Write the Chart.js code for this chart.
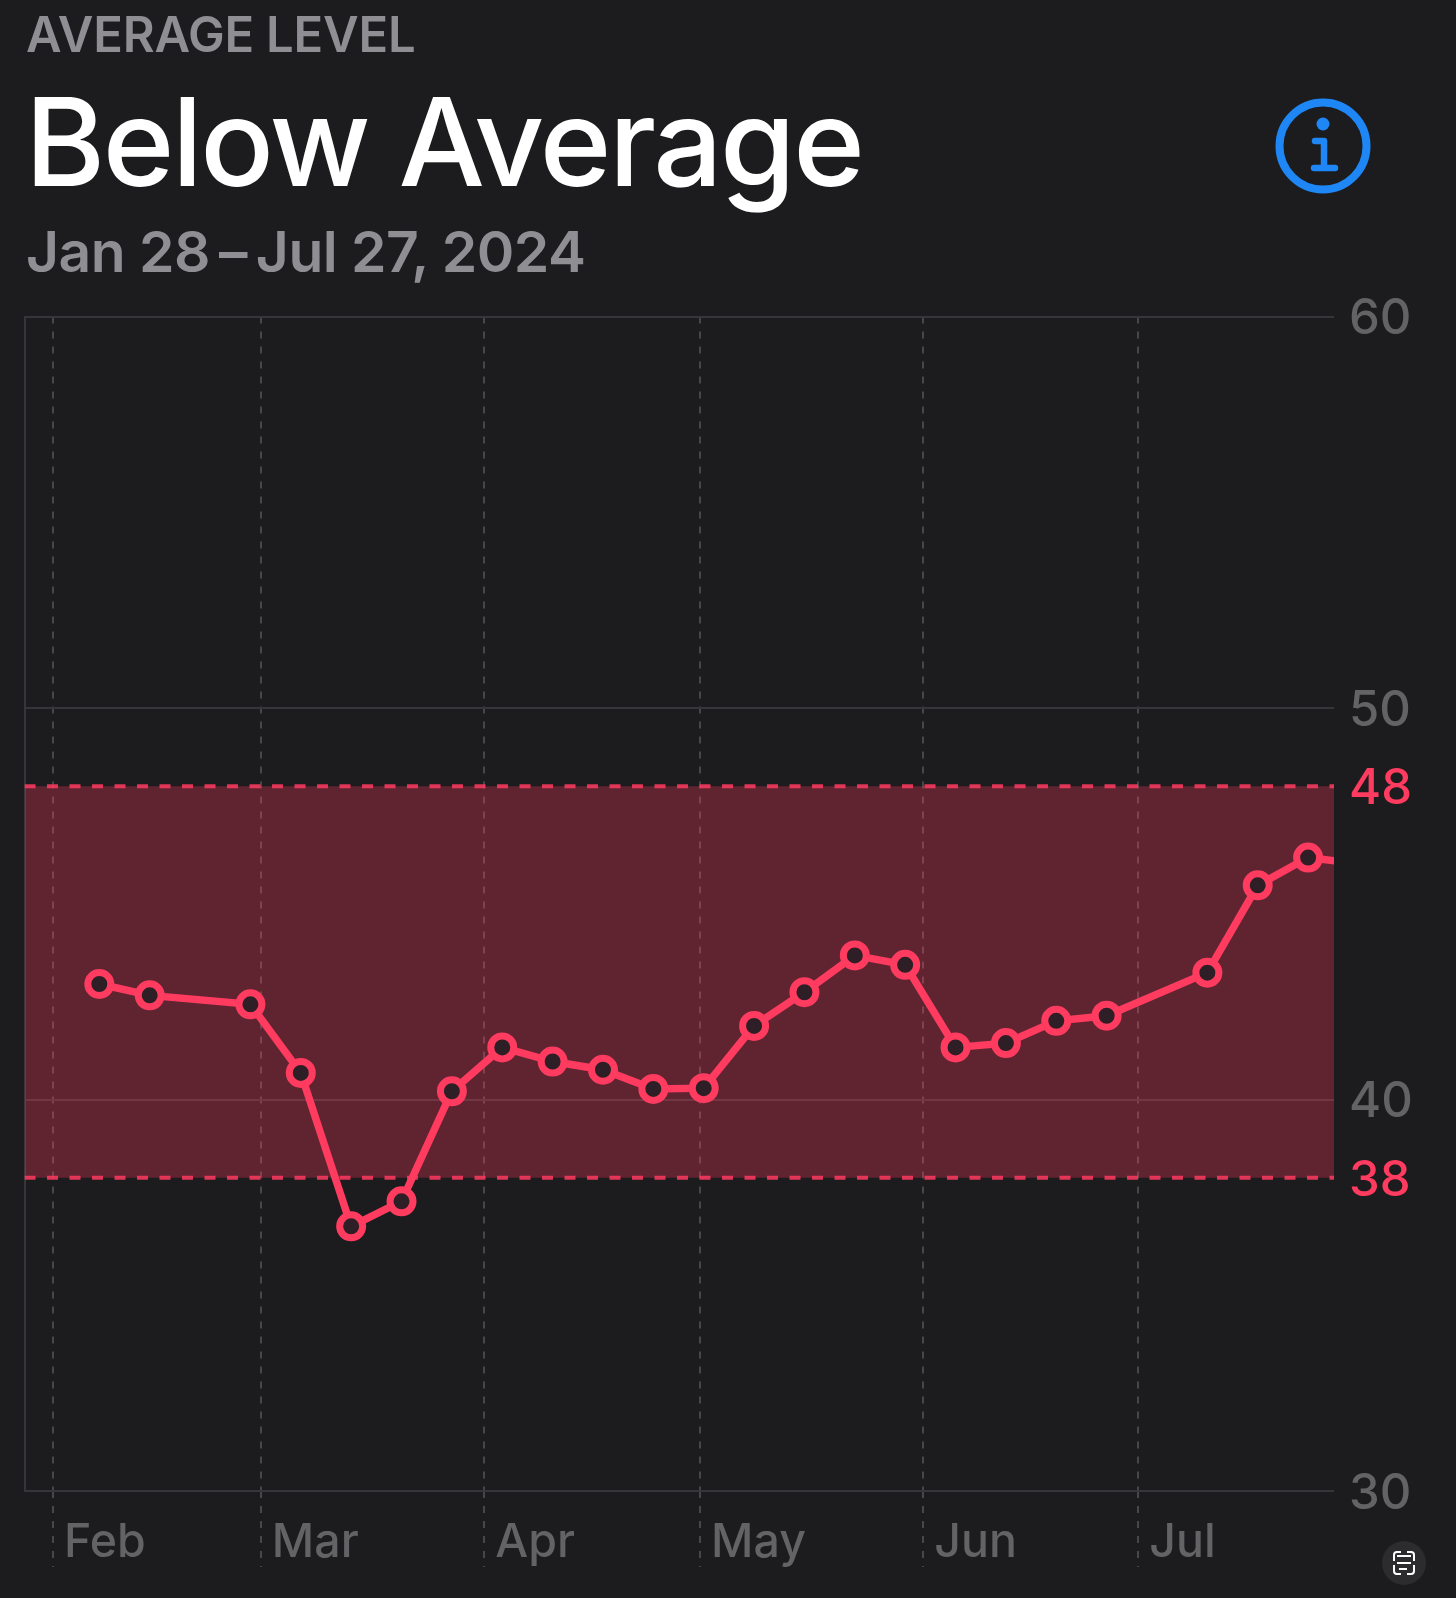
<!DOCTYPE html>
<html>
<head>
<meta charset="UTF-8">
<title>Below Average</title>
<style>
	html, body { margin: 0; padding: 0; background: #1c1c1e; }
	body { position: relative; width: 1456px; height: 1598px; overflow: hidden; font-family: Inter, "Noto Sans", sans-serif; }
	#myChart { position: absolute; left: 0; top: 0; }
	.txt { position: absolute; line-height: 1; white-space: nowrap; }
	#eyebrow { left: 26px; top: 10px; font-size: 49px; font-weight: 600; color: #8e8e93; letter-spacing: -0.2px; }
	#headline { left: 25px; top: 81px; font-size: 122px; font-weight: 500; color: #ffffff; letter-spacing: -2.4px; }
	#range { left: 26px; top: 223px; font-size: 57px; font-weight: 600; color: #8e8e93; letter-spacing: -0.5px; }
	svg { position: absolute; left: 0; top: 0; }
</style>
</head>
<body>

	<canvas id="myChart" width="1456" height="1598"></canvas>

	<div class="txt" id="eyebrow">AVERAGE LEVEL</div>
	<div class="txt" id="headline">Below Average</div>
	<div class="txt" id="range">Jan 28&#8201;–&#8201;Jul 27, 2024</div>

	<svg width="1456" height="1598" fill="none">
		<!-- info button -->
		<circle cx="1323" cy="146" r="43.5" stroke="#1e86f5" stroke-width="8"/>
		<circle cx="1323" cy="124" r="6.5" fill="#1e86f5"/>
		<path d="M1315 141h9v27M1314 168h21" stroke="#1e86f5" stroke-width="6.5" stroke-linecap="round" stroke-linejoin="round"/>
		<!-- live text button -->
		<circle cx="1404" cy="1563" r="22" fill="#2c2c2e"/>
		<path d="M1394 1561v-6q0-3 3-3h4M1407 1552h4q3 0 3 3v6M1394 1565v6q0 3 3 3h4M1407 1574h4q3 0 3-3v-6" stroke="#fff" stroke-width="2"/>
		<path d="M1397 1556h14M1397 1563h14M1399 1569h8" stroke="#fff" stroke-width="2"/>
	</svg>

	<script src="https://cdn.jsdelivr.net/npm/chart.js@4/dist/chart.umd.js"></script>
	<script>

	// days since Jan 28, one reading a week (two weeks have no reading)
	var days = [10.4, 17.4, 31.4, 38.4, 45.4, 52.4, 59.4, 66.4, 73.4, 80.4, 87.4, 94.4,
		101.4, 108.4, 115.4, 122.4, 129.4, 136.4, 143.4, 150.4, 164.4, 171.4, 178.4, 185.4];
	var levels = [42.95, 42.66, 42.43, 40.68, 36.76, 37.40, 40.21, 41.33, 40.97, 40.76, 40.27, 40.29,
		41.88, 42.74, 43.68, 43.44, 41.33, 41.44, 42.01, 42.14, 43.24, 45.47, 46.18, 46.02];

	var monthLabels = ['Feb', 'Mar', 'Apr', 'May', 'Jun', 'Jul'];
	var monthTicks = [3.96, 32.84, 63.9, 93.9, 124.9, 154.8];
	var levelTicks = [30, 38, 40, 48, 50, 60];

	var bandDays = [0, 182];
	var bandLow = [38, 38];
	var bandHigh = [48, 48];

	var pink = '#ff3b60';
	var inBand = [38, 48];

	function toPoints(xs, ys) {
		return xs.map(function (x, i) { return { x: x, y: ys[i] }; });
	}

	var ctx = document.getElementById('myChart').getContext('2d');

	var myChart = new Chart(ctx, {
		type: 'line',
		data: {
			datasets: [{
				data: toPoints(days, levels),
				borderColor: pink,
				borderWidth: 7.5,
				pointRadius: 11.5,
				pointBorderWidth: 7,
				pointBackgroundColor: '#2e1e26',
				pointBorderColor: pink,
				fill: false,
				tension: 0,
				clip: 0
			}, {
				data: toPoints(bandDays, bandHigh),
				borderColor: 'rgba(255,59,96,0.85)',
				borderWidth: 4,
				borderDash: [11, 11.5],
				pointRadius: 0,
				backgroundColor: 'rgba(255,55,95,0.3)',
				fill: '+1',
				clip: 0
			}, {
				data: toPoints(bandDays, bandLow),
				borderColor: 'rgba(255,59,96,0.85)',
				borderWidth: 4,
				borderDash: [11, 11.5],
				pointRadius: 0,
				fill: false,
				clip: 0
			}]
		},
		options: {
			responsive: false,
			animation: false,
			devicePixelRatio: 1,
			layout: { padding: { left: 24.5, top: 316.5, right: 0, bottom: 0 } },
			plugins: { legend: { display: false }, tooltip: { enabled: false }, title: { display: false } },
			scales: {
				x: {
					type: 'linear',
					position: 'bottom',
					min: 0,
					max: 182,
					afterBuildTicks: function (scale) {
						scale.ticks = monthTicks.map(function (v) { return { value: v }; });
					},
					afterFit: function (scale) { scale.height = 107; },
					border: { display: false, dash: [7, 8] },
					grid: {
						color: '#47474a',
						lineWidth: 2,
						tickLength: 76,
						tickColor: '#47474a',
						tickWidth: 2,
						tickBorderDash: [7, 8]
					},
					ticks: {
						color: '#636366',
						font: { family: 'Inter', size: 46.5, weight: '500' },
						align: 'start',
						labelOffset: 11,
						padding: -52,
						maxRotation: 0,
						autoSkip: false,
						callback: function (value) {
							return monthLabels[monthTicks.indexOf(value)];
						}
					}
				},
				y: {
					type: 'linear',
					position: 'right',
					min: 30,
					max: 60,
					afterBuildTicks: function (scale) {
						scale.ticks = levelTicks.map(function (v) { return { value: v }; });
					},
					afterFit: function (scale) { scale.width = 122; },
					border: { display: false },
					grid: {
						drawTicks: false,
						lineWidth: 2,
						color: function (c) {
							return inBand.indexOf(c.tick.value) >= 0 ? 'transparent' : '#36363a';
						}
					},
					ticks: {
						padding: 15,
						crossAlign: 'near',
						autoSkip: false,
						labelOffset: 3,
						font: { family: 'Inter', size: 49, weight: '500' },
						color: function (c) {
							return inBand.indexOf(c.tick.value) >= 0 ? pink : '#636366';
						}
					}
				},
				// only here for the solid line down the left side of the plot
				edge: {
					type: 'linear',
					position: 'left',
					min: 30,
					max: 60,
					afterFit: function (scale) { scale.width = 0; },
					border: { display: true, color: '#36363a', width: 2 },
					grid: { display: false, drawTicks: false },
					ticks: { display: false }
				}
			}
		}
	});

	</script>

</body>
</html>
